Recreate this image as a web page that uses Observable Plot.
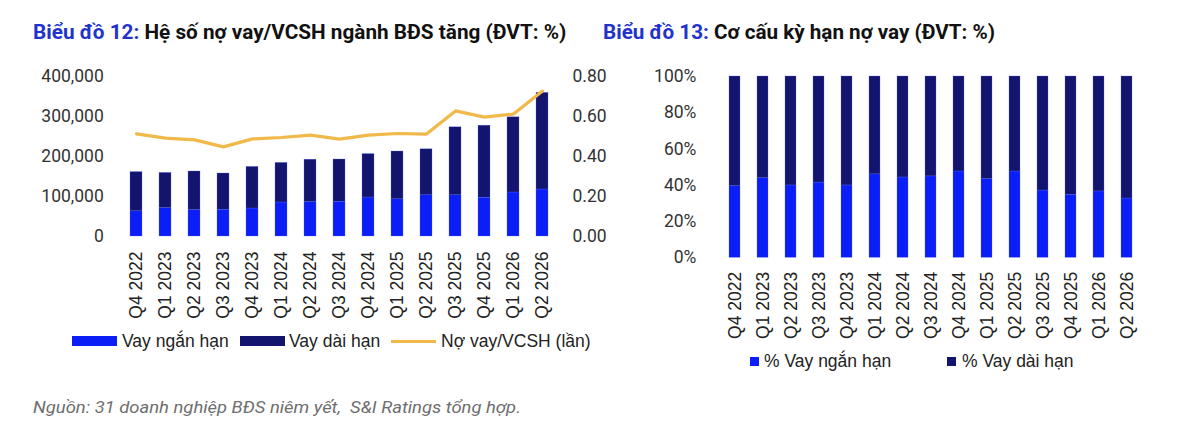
<!DOCTYPE html>
<html>
<head>
<meta charset="utf-8">
<script src="https://cdn.jsdelivr.net/npm/d3@7"></script>
<script src="https://cdn.jsdelivr.net/npm/@observablehq/plot@0.6"></script>
<style>
  html, body { margin: 0; padding: 0; background: #fff; }
  body { width: 1200px; height: 436px; position: relative; overflow: hidden; font-family: Roboto, "Liberation Sans", sans-serif; }
  .abs { position: absolute; }
  .title { font-family: Roboto, sans-serif; font-weight: 700; font-size: 19.5px; line-height: 22px; color: #111; white-space: nowrap; transform-origin: left center; }
  .title .blue { color: #2233cc; }
  .legend { font-family: "Liberation Sans", Arial, sans-serif; font-size: 17.5px; color: #222; white-space: nowrap; line-height: 20px; }
  .sw { position: absolute; }
  .footer { font-family: Roboto, sans-serif; font-style: italic; font-size: 16.5px; color: #6e6e6e; white-space: pre; line-height: 20px; transform-origin: left center; }
  svg [aria-label="x-axis tick label"] { font-family: "Liberation Sans", Arial, sans-serif; font-size: 17.5px; fill: #222; }
  svg [aria-label="y-axis tick label"] { font-family: Roboto, sans-serif; font-size: 17.5px; fill: #333; }
</style>
</head>
<body>
<div id="t12" class="abs title" style="left:33px; top:22px;"><span class="blue">Biểu đồ 12:</span> Hệ số nợ vay/VCSH ngành BĐS tăng (ĐVT: %)</div>
<div id="t13" class="abs title" style="left:603px; top:22px;"><span class="blue">Biểu đồ 13:</span> Cơ cấu kỳ hạn nợ vay (ĐVT: %)</div>
<div id="c12" class="abs" style="left:0px; top:50px;"></div>
<div id="c13" class="abs" style="left:600px; top:50px;"></div>
<div id="leg12"></div>
<div id="leg13"></div>
<div id="foot" class="abs footer" style="left:33px; top:398px;">Nguồn: 31 doanh nghiệp BĐS niêm yết,  S&amp;I Ratings tổng hợp.</div>
<script>
// ---------- Data ----------
const quarters = ["Q4 2022","Q1 2023","Q2 2023","Q3 2023","Q4 2023","Q1 2024","Q2 2024","Q3 2024","Q4 2024","Q1 2025","Q2 2025","Q3 2025","Q4 2025","Q1 2026","Q2 2026"];

// Biểu đồ 12 (tỷ đồng)
const shortTermLoans = [63000, 71000, 66000, 67000, 70000, 85000, 86000, 87000, 97500, 93000, 103000, 103000, 97000, 110000, 117500];
const longTermLoans  = [98000, 88000, 96500, 90500, 104000, 99000, 106000, 105500, 108500, 119500, 115000, 170000, 180000, 188000, 241500];
const debtToEquity   = [0.513, 0.492, 0.483, 0.448, 0.488, 0.495, 0.507, 0.487, 0.507, 0.515, 0.512, 0.628, 0.597, 0.612, 0.727];
const leftTicks12  = [0, 100000, 200000, 300000, 400000];
const rightTicks12 = [0, 0.2, 0.4, 0.6, 0.8];

// Biểu đồ 13 (%)
const shortTermPct = [39.5, 43.9, 39.9, 41.5, 39.9, 46.0, 44.3, 44.9, 47.6, 43.4, 47.6, 37.1, 34.7, 36.6, 32.7];
const longTermPct  = [60.5, 56.1, 60.1, 58.5, 60.1, 54.0, 55.7, 55.1, 52.4, 56.6, 52.4, 62.9, 65.3, 63.4, 67.3];
const pctTicks13 = [0, 20, 40, 60, 80, 100];

const seriesNames12 = ["Vay ngắn hạn", "Vay dài hạn", "Nợ vay/VCSH (lần)"];
const seriesNames13 = ["% Vay ngắn hạn", "% Vay dài hạn"];
const colShort = "#0a1ef5";
const colLong = "#12146e";
const colLine = "#f0b94a";

// ---------- Chart 12 ----------
const rows12 = [];
quarters.forEach((q, i) => rows12.push({q, type: seriesNames12[0], v: shortTermLoans[i]}));
quarters.forEach((q, i) => rows12.push({q, type: seriesNames12[1], v: longTermLoans[i]}));
const ratioRows = quarters.map((q, i) => ({q, r: debtToEquity[i]}));
const ratioToLeft = 400000 / 0.8;

const chart12 = Plot.plot({
  width: 620, height: 290,
  marginTop: 26, marginBottom: 104, marginLeft: 122.3, marginRight: 65.5,
  style: {overflow: "visible", background: "transparent"},
  x: {domain: quarters, paddingInner: 0.6, paddingOuter: 0.2, label: null, axis: null},
  y: {domain: [0, 400000], label: null, axis: null},
  color: {domain: seriesNames12.slice(0, 2), range: [colShort, colLong]},
  marks: [
    Plot.barY(rows12, {x: "q", y: "v", fill: "type", stroke: "#5a6cff", strokeWidth: 0.5, strokeOpacity: 0.6}),
    Plot.lineY(ratioRows, {x: "q", y: d => d.r * ratioToLeft, stroke: colLine, strokeWidth: 3.2, strokeLinejoin: "round"}),
    Plot.axisY({ticks: leftTicks12, tickFormat: d => d3.format(",")(d), tickSize: 0, tickPadding: 19, label: null}),
    Plot.axisY({anchor: "right", ticks: rightTicks12.map(t => t * ratioToLeft), tickFormat: d => (d / ratioToLeft).toFixed(2), tickSize: 0, tickPadding: 17.5, label: null}),
    Plot.axisX({tickRotate: -90, tickSize: 0, tickPadding: 15, label: null})
  ]
});
document.getElementById("c12").appendChild(chart12);

// ---------- Chart 13 ----------
const rows13 = [];
quarters.forEach((q, i) => rows13.push({q, type: seriesNames13[0], v: shortTermPct[i]}));
quarters.forEach((q, i) => rows13.push({q, type: seriesNames13[1], v: longTermPct[i]}));

const chart13 = Plot.plot({
  width: 560, height: 290,
  marginTop: 26, marginBottom: 82.7, marginLeft: 115.9, marginRight: 15.5,
  style: {overflow: "visible", background: "transparent"},
  x: {domain: quarters, paddingInner: 0.6, paddingOuter: 0.2, label: null, axis: null},
  y: {domain: [0, 100], label: null, axis: null},
  color: {domain: seriesNames13, range: [colShort, colLong]},
  marks: [
    Plot.barY(rows13, {x: "q", y: "v", fill: "type", stroke: "#5a6cff", strokeWidth: 0.5, strokeOpacity: 0.6}),
    Plot.axisY({ticks: pctTicks13, tickFormat: d => d + "%", tickSize: 0, tickPadding: 20, label: null}),
    Plot.axisX({tickRotate: -90, tickSize: 0, tickPadding: 14, label: null})
  ]
});
document.getElementById("c13").appendChild(chart13);

// ---------- Legends ----------
function addItem(container, swatchStyle, text, textLeft, top) {
  const sw = document.createElement("div");
  sw.className = "sw";
  Object.assign(sw.style, swatchStyle);
  container.appendChild(sw);
  const t = document.createElement("div");
  t.className = "abs legend";
  t.style.left = textLeft + "px";
  t.style.top = top + "px";
  t.textContent = text;
  container.appendChild(t);
}
const leg12 = document.getElementById("leg12");
addItem(leg12, {left: "72px", top: "336px", width: "45px", height: "10px", background: colShort}, seriesNames12[0], 122, 331);
addItem(leg12, {left: "240px", top: "336px", width: "45px", height: "10px", background: colLong}, seriesNames12[1], 289, 331);
addItem(leg12, {left: "391px", top: "339.5px", width: "45px", height: "3px", background: colLine}, seriesNames12[2], 441, 331);

const leg13 = document.getElementById("leg13");
addItem(leg13, {left: "750px", top: "356.5px", width: "9px", height: "9px", background: colShort}, seriesNames13[0], 764, 351);
addItem(leg13, {left: "947px", top: "356.5px", width: "9px", height: "9px", background: colLong}, seriesNames13[1], 962, 351);

// ---------- Fit title / footer widths ----------
function fitWidth(id, target) {
  const el = document.getElementById(id);
  const w = el.offsetWidth;
  if (w > 0) el.style.transform = `scaleX(${target / w})`;
}
function fitAll() {
  fitWidth("t12", 533);
  fitWidth("t13", 392);
  fitWidth("foot", 488);
}
fitAll();
if (document.fonts && document.fonts.ready) document.fonts.ready.then(fitAll);
</script>
</body>
</html>
